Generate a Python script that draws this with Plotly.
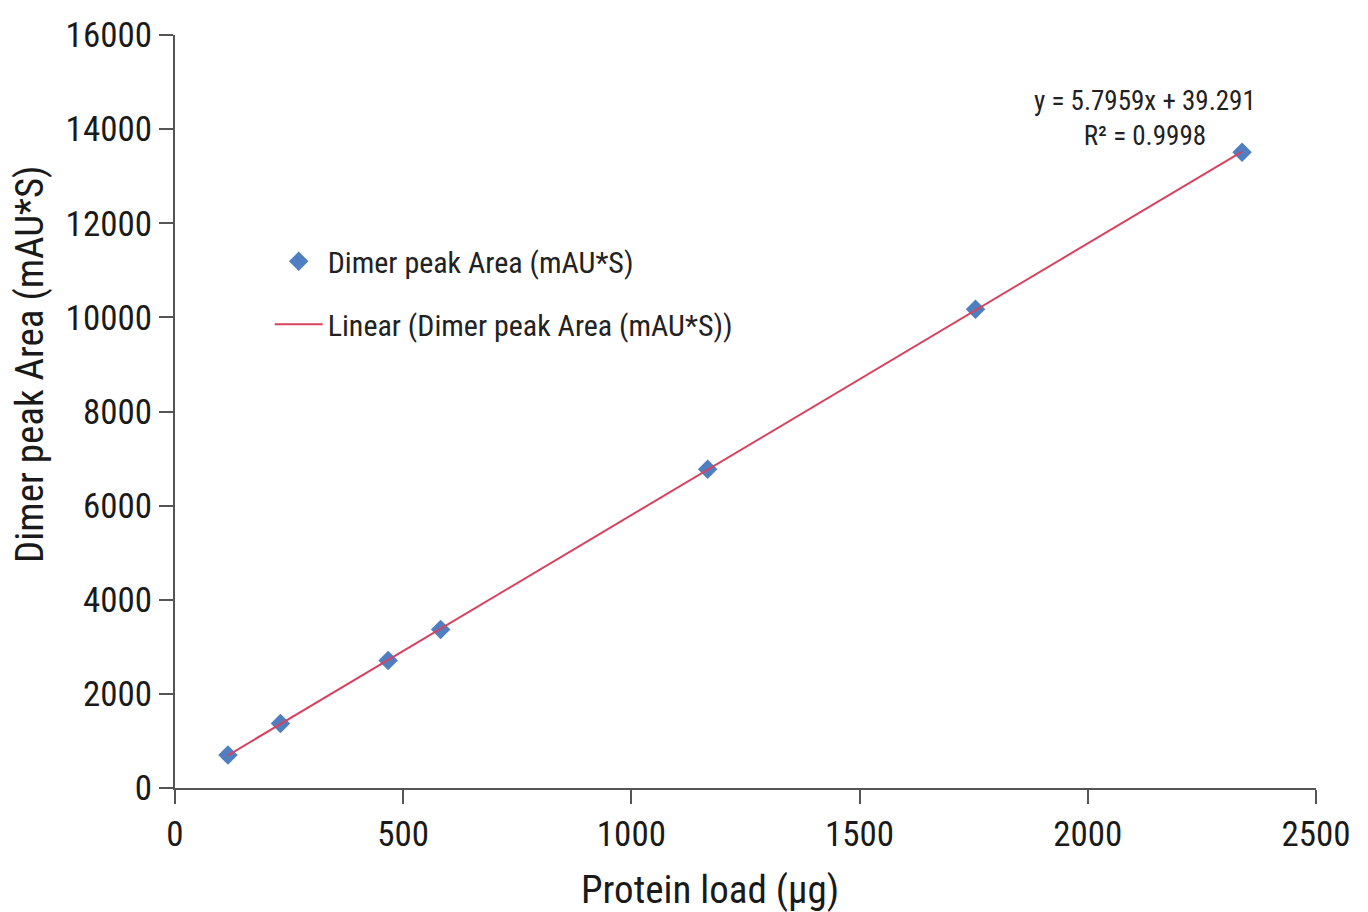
import numpy as np
import plotly.graph_objects as go

protein_load = [116, 231, 467, 582, 1167, 1754, 2338]
dimer_area = [699, 1368, 2710, 3370, 6775, 10170, 13510]
x_ticks = [0, 500, 1000, 1500, 2000, 2500]
y_ticks = [0, 2000, 4000, 6000, 8000, 10000, 12000, 14000, 16000]
y_tick_text = [str(v) for v in y_ticks]
x_title = "Protein load (µg)"
y_title = "Dimer peak Area (mAU*S)"

slope, intercept = np.polyfit(protein_load, dimer_area, 1)
fit_x = [min(protein_load), max(protein_load)]
fit_y = [slope * v + intercept for v in fit_x]

FONT = "Roboto Condensed, Liberation Sans Narrow, Roboto, sans-serif"

fig = go.Figure()
fig.add_trace(go.Scatter(
    x=protein_load, y=dimer_area, mode="markers",
    marker=dict(symbol="diamond", size=15, color="#4F7FC0"),
    name="Dimer peak Area (mAU*S)", legendgroup="a",
))
fig.add_trace(go.Scatter(
    x=fit_x, y=fit_y, mode="lines",
    line=dict(color="#D7435E", width=2),
    name="Linear (Dimer peak Area (mAU*S))", legendgroup="b",
))

fig.add_annotation(
    x=2126, y=14230, xref="x", yref="y",
    text="y = 5.7959x + 39.291<br>R² = 0.9998",
    showarrow=False, font=dict(family=FONT, size=27, color="#222"),
    align="center",
)
# axis titles (placed off-centre as in the original)
fig.add_annotation(
    x=0.469, y=-0.1355, xref="paper", yref="paper",
    text=x_title, showarrow=False, xanchor="center", yanchor="middle",
    font=dict(family=FONT, size=39, color="#1a1a1a"),
)
fig.add_annotation(
    x=-0.127, y=0.562, xref="paper", yref="paper",
    text=y_title, showarrow=False, textangle=-90,
    xanchor="center", yanchor="middle",
    font=dict(family=FONT, size=39, color="#1a1a1a"),
)

fig.update_layout(
    width=1368, height=912,
    margin=dict(l=167, r=60, t=27, b=132, autoexpand=False),
    paper_bgcolor="white", plot_bgcolor="white",
    font=dict(family=FONT, size=35, color="#1a1a1a"),
    showlegend=True,
    legend=dict(
        x=0.083, y=0.734, xanchor="left", yanchor="top",
        font=dict(family=FONT, size=30, color="#222"),
        bgcolor="rgba(0,0,0,0)", traceorder="grouped", tracegroupgap=21,
        itemwidth=48,
    ),
    xaxis=dict(
        range=[0, 2500], tickvals=x_ticks, showgrid=False, zeroline=False,
        showline=True, linecolor="#555", linewidth=2, automargin=False,
        ticks="outside", ticklen=14, tickwidth=2, tickcolor="#555",
        tickfont=dict(size=35),
    ),
    yaxis=dict(
        range=[0, 16000], tickvals=y_ticks, ticktext=y_tick_text,
        showgrid=False, zeroline=False, automargin=False,
        showline=True, linecolor="#555", linewidth=2,
        ticks="outside", ticklen=14, tickwidth=2, tickcolor="#555",
        tickfont=dict(size=35),
    ),
)

fig.write_html("out.html")
